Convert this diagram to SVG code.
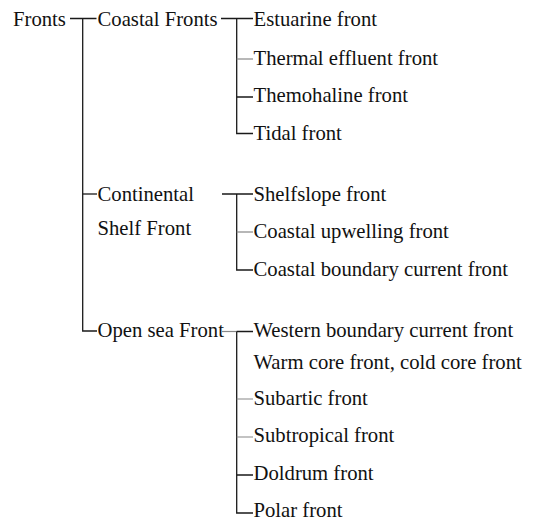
<svg xmlns="http://www.w3.org/2000/svg" width="537" height="520" viewBox="0 0 537 520">
<style>
text{font-family:"Liberation Serif","Times New Roman",serif;font-size:20.7px;fill:#111}
.ln{fill:none;stroke:#1a1a1a;stroke-width:1.3}
.lg{fill:none;stroke:#888;stroke-width:1.2}
</style>
<rect width="537" height="520" fill="#fff"/>
<g id="connectors">
<path class="ln" d="M70 18.5H96.5M82.7 18.5V331H97"/>
<path class="ln" d="M82.7 194H97"/>
<path class="ln" d="M221 18.5H253M236.7 18.5V133.5H253M236.7 97H253"/>
<path class="lg" d="M236.7 59H253"/>
<path class="ln" d="M222 194H253M236.7 194V270H253"/>
<path class="lg" d="M236.7 232H253"/>
<path class="lg" d="M222 331.5H236.7"/>
<path class="ln" d="M236.7 331.5H253M236.7 331.5V513H253M236.7 475H253"/>
<path class="lg" d="M236.7 399H253M236.7 437H253"/>
</g>
<g id="n-fronts"><text x="13" y="26">Fronts</text></g>
<g id="n-coastal"><text x="97.5" y="26">Coastal Fronts</text></g>
<g id="n-estuarine"><text x="253.5" y="26">Estuarine front</text></g>
<g id="n-thermal"><text x="253.5" y="65">Thermal effluent front</text></g>
<g id="n-themohaline"><text x="253.5" y="102">Themohaline front</text></g>
<g id="n-tidal"><text x="253.5" y="140">Tidal front</text></g>
<g id="n-continental"><text x="97.5" y="201">Continental</text><text x="97.5" y="235">Shelf Front</text></g>
<g id="n-shelfslope"><text x="253.5" y="201">Shelfslope front</text></g>
<g id="n-upwelling"><text x="253.5" y="238">Coastal upwelling front</text></g>
<g id="n-boundary"><text x="253.5" y="276">Coastal boundary current front</text></g>
<g id="n-opensea"><text x="97.5" y="337">Open sea Front</text></g>
<g id="n-western"><text x="253.5" y="337">Western boundary current front</text></g>
<g id="n-warm"><text x="253.5" y="369">Warm core front, cold core front</text></g>
<g id="n-subartic"><text x="253.5" y="405">Subartic front</text></g>
<g id="n-subtropical"><text x="253.5" y="442">Subtropical front</text></g>
<g id="n-doldrum"><text x="253.5" y="480">Doldrum front</text></g>
<g id="n-polar"><text x="253.5" y="517">Polar front</text></g>
</svg>
